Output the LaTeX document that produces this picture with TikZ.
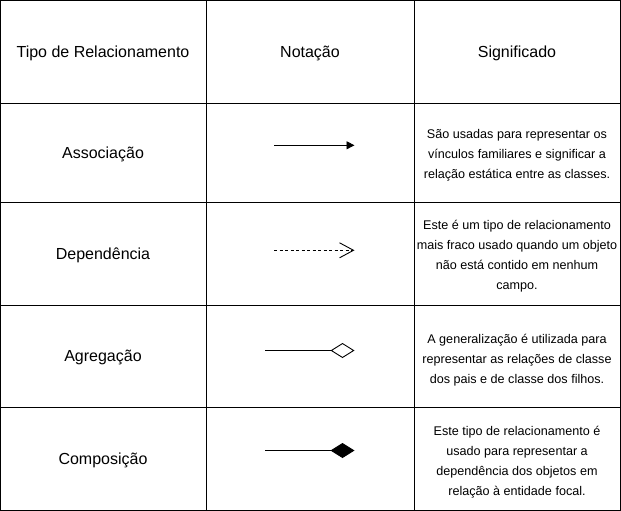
\documentclass[tikz,border=0pt]{standalone}
\usepackage{fontspec}
\setmainfont{Liberation Sans}
\usetikzlibrary{arrows.meta}
\begin{document}
\begin{tikzpicture}[x=1pt,y=-1pt,
  grid/.style={draw=black,line width=1pt},
  head/.style={font=\fontsize{16}{19}\selectfont,inner sep=0pt},
  lbl/.style={font=\fontsize{16}{19}\selectfont,inner sep=0pt},
  desc/.style={font=\fontsize{12.6}{20}\selectfont,align=center,inner sep=0pt},
  conn/.style={line width=0.9pt}]
\useasboundingbox (0,0) rectangle (621,511);
\fill[white] (0,0) rectangle (621,511);
% table grid
\draw[grid] (0.6,0.6) rectangle (620.4,510.4);
\draw[grid] (206,0.6) -- (206,510.4);
\draw[grid] (414,0.6) -- (414,510.4);
\draw[grid] (0.6,103) -- (620.4,103);
\draw[grid] (0.6,202) -- (620.4,202);
\draw[grid] (0.6,305) -- (620.4,305);
\draw[grid] (0.6,407) -- (620.4,407);
% header
\node[head] (h1) at (103,53) {Tipo de Relacionamento};
\node[head] (h2) at (310,53) {Notação};
\node[head] (h3) at (517,53) {Significado};
% row labels
\node[lbl] (r1) at (103,154) {Associação};
\node[lbl] (r2) at (103,255) {Dependência};
\node[lbl] (r3) at (103,357.5) {Agregação};
\node[lbl] (r4) at (103,460) {Composição};
% notation
\coordinate (a1) at (274,145.3);
\coordinate (a2) at (354.5,145.3);
\draw[conn,-{Triangle[length=8pt,width=8pt]}] (a1) -- (a2);
\coordinate (d1) at (274,250.3);
\coordinate (d2) at (354.5,250.3);
\draw[conn,dash pattern=on 3pt off 2.5pt,-{Straight Barb[length=14pt,width=15pt,line width=0.9pt]}] (d1) -- (d2);
\coordinate (g1) at (265,350.5);
\coordinate (g2) at (354.5,350.5);
\draw[conn,-{Diamond[length=24pt,width=15pt,open,fill=white]}] (g1) -- (g2);
\coordinate (c1) at (265,450.5);
\coordinate (c2) at (354.5,450.5);
\draw[conn,-{Diamond[length=24pt,width=15pt]}] (c1) -- (c2);
% descriptions
\node[desc] (s1) at (517,155) {São usadas para representar os\\vínculos familiares e significar a\\relação estática entre as classes.};
\node[desc] (s2) at (517,256.5) {Este é um tipo de relacionamento\\mais fraco usado quando um objeto\\não está contido em nenhum\\campo.};
\node[desc] (s3) at (517,360.5) {A generalização é utilizada para\\representar as relações de classe\\dos pais e de classe dos filhos.};
\node[desc] (s4) at (517,462.5) {Este tipo de relacionamento é\\usado para representar a\\dependência dos objetos em\\relação à entidade focal.};
\end{tikzpicture}
\end{document}
